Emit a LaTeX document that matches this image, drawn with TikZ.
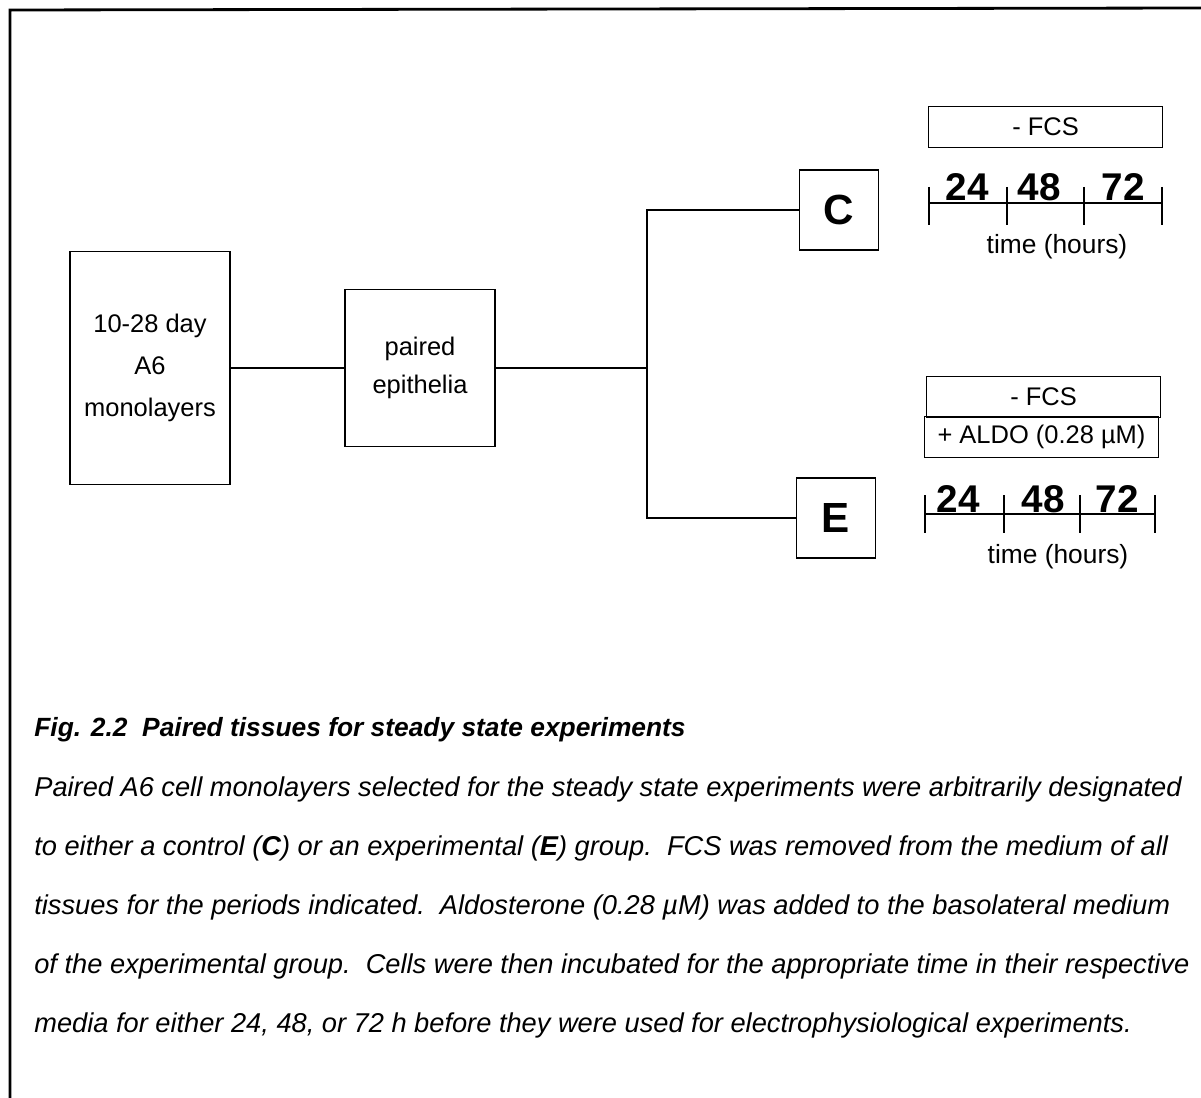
\documentclass[tikz,border=0pt]{standalone}
\usepackage{fontspec}
\setmainfont{Liberation Sans}
\usetikzlibrary{positioning}

\tikzset{
  stage/.style={draw, line width=1.1pt, align=center, inner sep=0pt,
    font=\fontsize{14.5}{24}\selectfont},
  group/.style={draw, line width=1.1pt, inner sep=0pt, minimum width=1.58cm,
    minimum height=1.6cm, font=\fontsize{24}{24}\selectfont\bfseries},
  medium/.style={draw, line width=1.1pt, inner sep=0pt, minimum width=4.68cm,
    minimum height=0.82cm, font=\fontsize{14.5}{16}\selectfont},
  hours/.style={anchor=base, inner sep=0pt, font=\fontsize{22}{22}\selectfont\bfseries},
  timelbl/.style={inner sep=0pt, font=\fontsize{15}{16}\selectfont},
  capline/.style={anchor=base west, inner sep=0pt, font=\fontsize{15.5}{17}\selectfont\itshape},
  link/.style={line width=1.1pt},
}

\begin{document}
\begin{tikzpicture}[x=0.02cm,y=-0.02cm]
\useasboundingbox (0,0) rectangle (1201,1098);
\draw[line width=1.6pt] (10,1098) -- (10,10) -- (1201,8);

% flow
\node[stage, minimum width=3.2cm, minimum height=4.66cm] (mono) at (150,368)
  {10-28 day\\A6\\monolayers};
\node[stage, minimum width=3cm, minimum height=3.14cm, font=\fontsize{14.5}{21.5}\selectfont]
  (pair) at (420,368) {paired\\epithelia};
\node[group] (ctl) at (839,210) {C};
\node[group] (exp) at (836,518) {E};
\coordinate (jn) at (647,368);

\draw[link] (mono) -- (pair);
\draw[link] (pair) -- (jn);
\draw[link] (jn) |- (ctl);
\draw[link] (jn) |- (exp);

% control group
\node[medium] (fcsC) at (1045.5,127) {- FCS};
\draw[link] (929,203) -- (1162,203);
\foreach \x in {929,1007,1084,1162}
  \draw[line width=0.9pt] (\x,187) -- (\x,225);
\node[hours] (c24) at (967,201) {24};
\node[hours] (c48) at (1039,201) {48};
\node[hours] (c72) at (1123,201) {72};
\node[timelbl] (timeC) at (1057,247) {time (hours)};

% experimental group
\node[medium] (fcsE) at (1043.5,397) {- FCS};
\node[medium] (aldo) at (1041.5,437) {+ ALDO (0.28 µM)};
\draw[link] (925,514) -- (1155,514);
\foreach \x in {925,1004,1080,1155}
  \draw[line width=0.9pt] (\x,495) -- (\x,533);
\node[hours] (e24) at (958,512) {24};
\node[hours] (e48) at (1043,512) {48};
\node[hours] (e72) at (1117,512) {72};
\node[timelbl] (timeE) at (1058,557) {time (hours)};

% caption
\node[capline, font=\fontsize{15}{17}\selectfont\bfseries\itshape] (cap0) at (34,736)
  {Fig. 2.2\ \ Paired tissues for steady state experiments};
\node[capline] (cap1) at (34,796) {Paired A6 cell monolayers selected for the steady state experiments were arbitrarily designated};
\node[capline] (cap2) at (34,855) {to either a control (\textbf{C}) or an experimental (\textbf{E}) group.\ \ FCS was removed from the medium of all};
\node[capline] (cap3) at (34,914) {tissues for the periods indicated.\ \ Aldosterone (0.28 µM) was added to the basolateral medium};
\node[capline] (cap4) at (34,973) {of the experimental group.\ \ Cells were then incubated for the appropriate time in their respective};
\node[capline] (cap5) at (34,1032) {media for either 24, 48, or 72 h before they were used for electrophysiological experiments.};
\end{tikzpicture}
\end{document}
